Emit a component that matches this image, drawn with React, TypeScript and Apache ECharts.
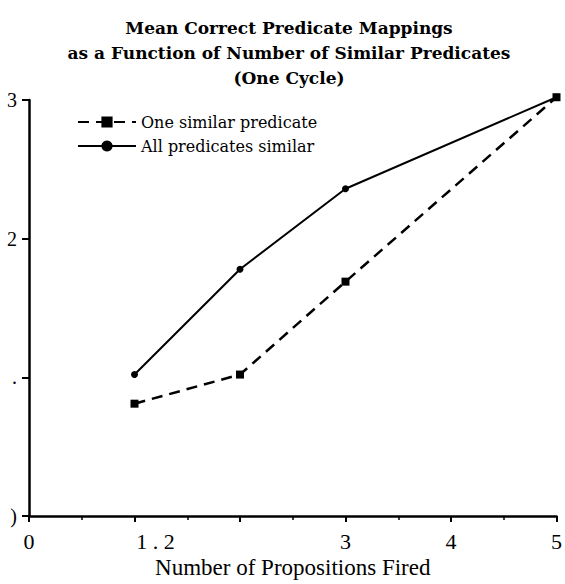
import React, { useEffect, useRef } from "react";
import * as echarts from "echarts";

const titleLines = [
  "Mean Correct Predicate Mappings",
  "as a Function of Number of Similar Predicates",
  "(One Cycle)",
];
const xName = "Number of Propositions Fired";
const xValues = [1, 2, 3, 5];
const oneSimilar = [0.81, 1.02, 1.69, 3.02];
const allSimilar = [1.02, 1.78, 2.36, 3.02];
const seriesNames = ["One similar predicate", "All predicates similar"];
const xTickValues = [0, 1.2, 3, 4, 5];
const xTickLabels = ["0", "1 . 2", "3", "4", "5"];
const yTickValues = [0, 1, 2, 3];
const yTickLabels = [")", ".", "2", "3"];

export default function App() {
  const ref = useRef<HTMLDivElement>(null);
  useEffect(() => {
    if (!ref.current) return;
    document.body.style.margin = "0";
    const chart = echarts.init(ref.current, undefined, { renderer: "svg" });
    const serif = "Liberation Serif";
    const titleFont = "DejaVu Serif";
    chart.setOption({
      animation: false,
      backgroundColor: "#ffffff",
      title: {
        text: titleLines.join("\n"),
        left: 284,
        top: 10,
        textAlign: "center",
        textStyle: {
          fontFamily: titleFont,
          fontWeight: "bold",
          fontSize: 17,
          lineHeight: 25,
          color: "#000",
          align: "center",
        },
      },
      legend: {
        orient: "vertical",
        left: 77,
        top: 114,
        padding: 0,
        itemWidth: 58,
        itemHeight: 14,
        itemGap: 8,
        data: seriesNames,
        textStyle: { fontFamily: titleFont, fontSize: 16, color: "#000" },
      },
      grid: { left: 29, right: 8, top: 100, bottom: 68 },
      xAxis: [
        {
          type: "value",
          min: 0,
          max: 5,
          interval: 1,
          position: "bottom",
          axisLine: { show: true, lineStyle: { color: "#000", width: 2.5 } },
          axisTick: { show: true, length: 6, lineStyle: { color: "#000", width: 2 } },
          minorTick: { show: true, splitNumber: 2, length: 4, lineStyle: { color: "#000", width: 1.5 } },
          axisLabel: { show: false },
          splitLine: { show: false },
          name: xName,
          nameLocation: "middle",
          nameGap: 40,
          nameTextStyle: { fontFamily: serif, fontSize: 23, color: "#000" },
        },
        {
          type: "value",
          min: 0,
          max: 5,
          interval: 0.2,
          position: "bottom",
          axisLine: { show: false },
          axisTick: { show: false },
          splitLine: { show: false },
          axisLabel: {
            show: true,
            margin: 14,
            fontFamily: serif,
            fontSize: 22,
            color: "#000",
            showMinLabel: true,
            showMaxLabel: true,
            formatter: (v: number) => {
              const i = xTickValues.findIndex((t) => Math.abs(t - v) < 1e-6);
              return i >= 0 ? xTickLabels[i] : "";
            },
          },
        },
      ],
      yAxis: {
        type: "value",
        min: 0,
        max: 3,
        interval: 1,
        axisLine: { show: true, lineStyle: { color: "#000", width: 2.5 } },
        axisTick: { show: true, length: 7, lineStyle: { color: "#000", width: 2 } },
        splitLine: { show: false },
        axisLabel: {
          margin: 12,
          fontFamily: serif,
          fontSize: 20,
          color: "#000",
          formatter: (v: number) => {
            const i = yTickValues.findIndex((t) => Math.abs(t - v) < 1e-6);
            return i >= 0 ? yTickLabels[i] : "";
          },
        },
      },
      series: [
        {
          name: seriesNames[0],
          type: "line",
          xAxisIndex: 0,
          clip: false,
          data: xValues.map((x, i) => [x, oneSimilar[i]]),
          symbol: "rect",
          symbolSize: 8,
          itemStyle: { color: "#000" },
          lineStyle: { color: "#000", width: 2.5, type: [11, 7] },
        },
        {
          name: seriesNames[1],
          type: "line",
          xAxisIndex: 0,
          clip: false,
          data: xValues.map((x, i) => [x, allSimilar[i]]),
          symbol: "circle",
          symbolSize: 7,
          itemStyle: { color: "#000" },
          lineStyle: { color: "#000", width: 2 },
        },
      ],
    });
    return () => chart.dispose();
  }, []);
  return <div ref={ref} style={{ width: 565, height: 584 }} />;
}
